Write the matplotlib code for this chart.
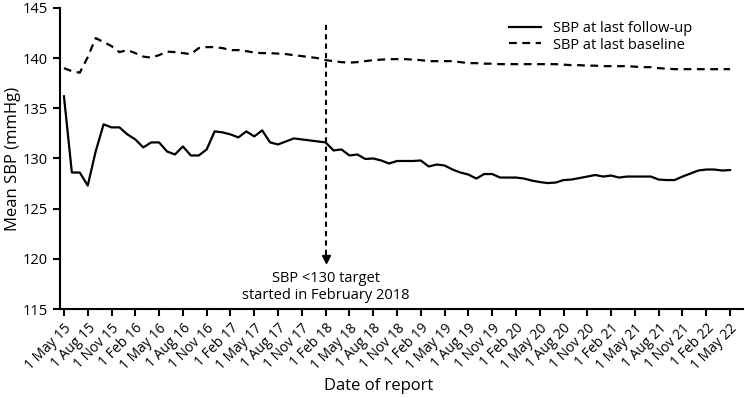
import matplotlib.pyplot as plt
import numpy as np

plt.rcParams['font.family'] = ['Open Sans', 'DejaVu Sans']

# monthly values, 1 May 2015 .. 1 May 2022
follow_up = [136.2, 128.6, 128.6, 127.3, 130.7, 133.4, 133.1, 133.1, 132.4, 131.9,
             131.1, 131.6, 131.6, 130.7, 130.4, 131.2, 130.3, 130.3, 130.9, 132.7,
             132.6, 132.4, 132.1, 132.7, 132.2, 132.8, 131.6, 131.4, 131.7, 132.0,
             131.9, 131.8, 131.7, 131.6, 130.8, 130.9, 130.3, 130.4, 129.95, 130.0,
             129.8, 129.5, 129.75, 129.75, 129.75, 129.8, 129.2, 129.4, 129.3, 128.9,
             128.6, 128.4, 128.0, 128.45, 128.45, 128.1, 128.1, 128.1, 128.0, 127.8,
             127.65, 127.55, 127.6, 127.85, 127.9, 128.05, 128.2, 128.35, 128.2, 128.3,
             128.1, 128.2, 128.2, 128.2, 128.2, 127.9, 127.85, 127.85, 128.2, 128.5,
             128.8, 128.9, 128.9, 128.8, 128.85]
baseline = [139.0, 138.7, 138.55, 140.1, 142.0, 141.6, 141.2, 140.6, 140.8, 140.5,
            140.15, 140.05, 140.3, 140.65, 140.6, 140.5, 140.4, 141.0, 141.1, 141.1,
            141.0, 140.8, 140.8, 140.7, 140.55, 140.5, 140.5, 140.45, 140.4, 140.3,
            140.2, 140.1, 140.0, 139.8, 139.7, 139.6, 139.55, 139.6, 139.7, 139.8,
            139.85, 139.9, 139.9, 139.9, 139.85, 139.8, 139.7, 139.7, 139.7, 139.7,
            139.6, 139.5, 139.5, 139.45, 139.45, 139.4, 139.4, 139.4, 139.4, 139.4,
            139.4, 139.4, 139.4, 139.35, 139.3, 139.3, 139.25, 139.25, 139.2, 139.2,
            139.2, 139.2, 139.15, 139.1, 139.1, 139.0, 138.95, 138.9, 138.9, 138.9,
            138.9, 138.9, 138.9, 138.9, 138.9]
tick_labels = ['1 May 15', '1 Aug 15', '1 Nov 15', '1 Feb 16', '1 May 16', '1 Aug 16',
               '1 Nov 16', '1 Feb 17', '1 May 17', '1 Aug 17', '1 Nov 17', '1 Feb 18',
               '1 May 18', '1 Aug 18', '1 Nov 18', '1 Feb 19', '1 May 19', '1 Aug 19',
               '1 Nov 19', '1 Feb 20', '1 May 20', '1 Aug 20', '1 Nov 20', '1 Feb 21',
               '1 May 21', '1 Aug 21', '1 Nov 21', '1 Feb 22', '1 May 22']
target_month = 33  # 1 Feb 18

months = np.arange(len(follow_up))

fig = plt.figure(figsize=(7.45, 3.98), dpi=100)
ax = fig.add_axes([0.0805, 0.2236, 0.9165, 0.7564])

ax.plot(months, follow_up, 'k-', lw=1.6, label='SBP at last follow-up')
ax.plot(months, baseline, 'k--', lw=1.6, dashes=(3.5, 2.5), label='SBP at last baseline')

# start of the <130 target
ax.vlines(target_month, 120.4, 143.6, colors='k', linestyles=(0, (2.5, 2)), lw=1.5)
ax.plot([target_month], [120.0], marker='v', color='k', ms=6)
ax.text(target_month, 118.8, 'SBP <130 target\nstarted in February 2018',
        ha='center', va='top', fontsize=10.5, linespacing=1.15)

ax.set_xlim(-0.5, 85.6)
ax.set_ylim(115, 145)
ax.set_yticks(np.arange(115, 146, 5))
ax.set_xticks(months[::3])
ax.set_xticklabels(tick_labels, rotation=45, ha='right', rotation_mode='anchor', fontsize=10)
ax.tick_params(axis='y', labelsize=10.5)
ax.tick_params(width=1.5, length=5)

for s in ['top', 'right']:
    ax.spines[s].set_visible(False)
for s in ['left', 'bottom']:
    ax.spines[s].set_linewidth(1.5)

ax.set_ylabel('Mean SBP (mmHg)', fontsize=12)
ax.yaxis.set_label_coords(-0.057, 0.5)
ax.set_xlabel('Date of report', fontsize=12)
ax.xaxis.set_label_coords(0.467, -0.23)

ax.legend(loc='upper right', bbox_to_anchor=(0.945, 1.0), frameon=False, fontsize=10.5,
          handlelength=2.2, labelspacing=0.1)

fig.savefig('out.png', dpi=100)
